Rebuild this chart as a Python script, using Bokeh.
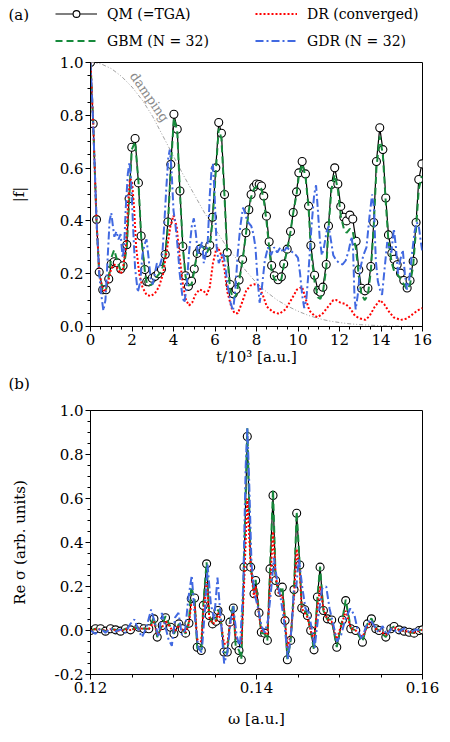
from bokeh.plotting import figure
from bokeh.models import (Range1d, FixedTicker, PrintfTickFormatter, Legend,
                          LegendItem, Label)
from bokeh.embed import file_html
from bokeh.resources import INLINE

FONT = "DejaVu Serif"

# ---------------- panel (a): |f| vs t/10^3 ----------------
qm_t = [0.00, 0.13, 0.29, 0.42, 0.59, 0.75, 0.88, 1.00, 1.14, 1.29,
        1.46, 1.57, 1.75, 1.86, 1.99, 2.15, 2.31, 2.44, 2.62, 2.71,
        2.81, 2.97, 3.12, 3.26, 3.42, 3.60, 3.73, 3.87, 4.02, 4.18,
        4.31, 4.45, 4.58, 4.72, 4.87, 5.00, 5.14, 5.27, 5.43, 5.61,
        5.75, 5.88, 6.04, 6.18, 6.31, 6.46, 6.59, 6.73, 6.88, 7.02,
        7.16, 7.33, 7.49, 7.63, 7.74, 7.87, 8.00, 8.13, 8.24, 8.35,
        8.48, 8.61, 8.73, 8.86, 9.04, 9.20, 9.31, 9.48, 9.64, 9.77,
        9.93, 10.04, 10.20, 10.36, 10.51, 10.62, 10.80, 10.96, 11.08, 11.20,
        11.36, 11.47, 11.61, 11.77, 11.92, 12.06, 12.21, 12.34, 12.50, 12.64,
        12.80, 12.93, 13.06, 13.22, 13.37, 13.51, 13.65, 13.78, 13.94, 14.09,
        14.23, 14.36, 14.52, 14.63, 14.78, 14.94, 15.10, 15.26, 15.40, 15.55,
        15.69, 15.82, 15.97]
qm_f = [1.000, 0.768, 0.405, 0.206, 0.139, 0.139, 0.180, 0.237, 0.245, 0.241,
        0.218, 0.230, 0.310, 0.484, 0.679, 0.712, 0.544, 0.343, 0.216, 0.170,
        0.169, 0.183, 0.190, 0.200, 0.217, 0.273, 0.396, 0.614, 0.804, 0.747,
        0.513, 0.303, 0.192, 0.152, 0.172, 0.218, 0.277, 0.293, 0.288, 0.280,
        0.308, 0.414, 0.601, 0.773, 0.732, 0.500, 0.280, 0.159, 0.124, 0.140,
        0.176, 0.254, 0.355, 0.442, 0.500, 0.528, 0.540, 0.538, 0.532, 0.494,
        0.418, 0.321, 0.231, 0.192, 0.177, 0.188, 0.237, 0.293, 0.360, 0.432,
        0.510, 0.582, 0.625, 0.578, 0.456, 0.307, 0.194, 0.136, 0.130, 0.149,
        0.235, 0.381, 0.538, 0.601, 0.540, 0.455, 0.414, 0.400, 0.422, 0.407,
        0.323, 0.215, 0.145, 0.135, 0.145, 0.227, 0.394, 0.625, 0.753, 0.670,
        0.487, 0.347, 0.278, 0.255, 0.234, 0.202, 0.174, 0.146, 0.174, 0.247,
        0.394, 0.557, 0.616]
gbm_f = [1.00, 0.77, 0.40, 0.20, 0.14, 0.14, 0.19, 0.26, 0.29, 0.25,
         0.21, 0.21, 0.30, 0.47, 0.67, 0.70, 0.55, 0.34, 0.21, 0.165,
         0.155, 0.16, 0.18, 0.195, 0.21, 0.26, 0.38, 0.60, 0.79, 0.74,
         0.51, 0.30, 0.19, 0.155, 0.16, 0.21, 0.28, 0.31, 0.30, 0.28,
         0.30, 0.40, 0.59, 0.75, 0.71, 0.49, 0.27, 0.14, 0.105, 0.12,
         0.17, 0.25, 0.35, 0.44, 0.49, 0.52, 0.53, 0.53, 0.52, 0.48,
         0.40, 0.30, 0.21, 0.18, 0.17, 0.18, 0.23, 0.29, 0.36, 0.43,
         0.50, 0.57, 0.615, 0.57, 0.45, 0.29, 0.17, 0.11, 0.105, 0.13,
         0.22, 0.37, 0.52, 0.575, 0.52, 0.42, 0.37, 0.355, 0.37, 0.36,
         0.29, 0.19, 0.12, 0.10, 0.12, 0.21, 0.38, 0.60, 0.72, 0.65,
         0.47, 0.32, 0.24, 0.21, 0.20, 0.18, 0.16, 0.14, 0.16, 0.23,
         0.37, 0.52, 0.57]
dr_t = [0.0, 0.13, 0.29, 0.42, 0.55, 0.7, 0.85, 1.0, 1.15, 1.3,
        1.45, 1.55, 1.7, 1.8, 1.9, 2.0, 2.1, 2.2, 2.35, 2.5,
        2.7, 2.9, 3.1, 3.3, 3.5, 3.7, 3.85, 4.0, 4.15, 4.3,
        4.45, 4.6, 4.75, 4.9, 5.05, 5.25, 5.45, 5.6, 5.75, 5.9,
        6.05, 6.15, 6.3, 6.45, 6.6, 6.8, 6.95, 7.1, 7.3, 7.5,
        7.7, 7.9, 8.1, 8.3, 8.5, 8.8, 9.1, 9.4, 9.7, 9.95,
        10.2, 10.35, 10.55, 10.8, 10.95, 11.2, 11.45, 11.7, 11.85, 12.05,
        12.3, 12.5, 12.75, 13.0, 13.25, 13.45, 13.7, 13.95, 14.15, 14.35,
        14.6, 14.95, 15.25, 15.5, 15.75, 16.0]
dr_f = [1.0, 0.77, 0.40, 0.21, 0.15, 0.13, 0.17, 0.22, 0.235, 0.22,
        0.2, 0.21, 0.3, 0.45, 0.56, 0.55, 0.45, 0.3, 0.2, 0.15,
        0.12, 0.115, 0.125, 0.15, 0.2, 0.3, 0.38, 0.42, 0.38, 0.26,
        0.16, 0.1, 0.08, 0.09, 0.12, 0.14, 0.135, 0.12, 0.15, 0.24,
        0.29, 0.3, 0.27, 0.22, 0.13, 0.07, 0.05, 0.05, 0.09, 0.135,
        0.155, 0.16, 0.155, 0.12, 0.075, 0.055, 0.048, 0.065, 0.105, 0.14,
        0.15, 0.11, 0.06, 0.04, 0.035, 0.05, 0.075, 0.1, 0.1, 0.09,
        0.085, 0.07, 0.04, 0.03, 0.025, 0.04, 0.075, 0.1, 0.085, 0.06,
        0.035, 0.025, 0.03, 0.045, 0.06, 0.07]
gdr_t = [0.0, 0.13, 0.29, 0.42, 0.52, 0.62, 0.72, 0.82, 0.92, 1.0,
         1.08, 1.15, 1.25, 1.35, 1.45, 1.55, 1.62, 1.7, 1.8, 1.88,
         1.96, 2.05, 2.15, 2.28, 2.4, 2.5, 2.6, 2.7, 2.8, 2.9,
         3.0, 3.1, 3.2, 3.3, 3.45, 3.55, 3.65, 3.75, 3.82, 3.9,
         4.0, 4.1, 4.2, 4.3, 4.42, 4.52, 4.62, 4.75, 4.88, 4.98,
         5.08, 5.18, 5.28, 5.38, 5.46, 5.55, 5.65, 5.75, 5.84, 5.9,
         5.98, 6.08, 6.18, 6.28, 6.38, 6.48, 6.6, 6.75, 6.87, 6.98,
         7.1, 7.22, 7.35, 7.45, 7.55, 7.65, 7.75, 7.85, 7.95, 8.05,
         8.15, 8.25, 8.4, 8.55, 8.7, 8.85, 9.0, 9.15, 9.3, 9.45,
         9.6, 9.75, 9.9, 10.0, 10.1, 10.2, 10.3, 10.4, 10.5, 10.65,
         10.78, 10.87, 10.95, 11.05, 11.15, 11.25, 11.38, 11.48, 11.58, 11.7,
         11.85, 12.0, 12.15, 12.3, 12.45, 12.58, 12.65, 12.72, 12.78, 12.88,
         13.0, 13.15, 13.3, 13.45, 13.57, 13.66, 13.75, 13.85, 13.95, 14.05,
         14.15, 14.3, 14.4, 14.5, 14.62, 14.72, 14.82, 14.92, 15.05, 15.15,
         15.25, 15.35, 15.5, 15.62, 15.72, 15.82, 15.92, 16.0]
gdr_f = [1.0, 0.77, 0.40, 0.2, 0.12, 0.06, 0.1, 0.25, 0.4, 0.43,
         0.38, 0.34, 0.36, 0.33, 0.35, 0.26, 0.3, 0.45, 0.58, 0.62,
         0.55, 0.38, 0.22, 0.13, 0.17, 0.27, 0.31, 0.33, 0.26, 0.18,
         0.16, 0.2, 0.24, 0.22, 0.26, 0.38, 0.52, 0.64, 0.67, 0.6,
         0.44, 0.38, 0.3, 0.2, 0.12, 0.09, 0.14, 0.28, 0.38, 0.41,
         0.35, 0.27, 0.3, 0.32, 0.24, 0.27, 0.32, 0.5, 0.6, 0.615,
         0.5, 0.3, 0.24, 0.26, 0.28, 0.24, 0.16, 0.09, 0.06, 0.14,
         0.28, 0.38, 0.45, 0.43, 0.4, 0.39, 0.38, 0.35, 0.3, 0.18,
         0.09, 0.14, 0.25, 0.3, 0.27, 0.3, 0.28, 0.3, 0.28, 0.3,
         0.29, 0.28, 0.27, 0.26, 0.2, 0.12, 0.07, 0.1, 0.2, 0.38,
         0.5, 0.535, 0.45, 0.33, 0.27, 0.3, 0.36, 0.38, 0.33, 0.27,
         0.25, 0.24, 0.235, 0.25, 0.29, 0.34, 0.3, 0.12, 0.065, 0.12,
         0.22, 0.27, 0.3, 0.42, 0.5, 0.45, 0.25, 0.17, 0.14, 0.12,
         0.2, 0.32, 0.3, 0.28, 0.37, 0.3, 0.2, 0.25, 0.29, 0.2,
         0.14, 0.17, 0.28, 0.36, 0.395, 0.38, 0.32, 0.28]
damp_t = [0.0, 0.5, 1.0, 1.5, 2.0, 2.5, 3.0, 3.5, 4.0, 4.5,
          5.0, 5.5, 6.0, 6.5, 7.0, 7.5, 8.0, 8.5, 9.0, 9.5,
          10.0, 10.5, 11.0, 11.5, 12.0, 12.5, 13.0, 13.5, 14.0, 14.5,
          15.0, 15.5, 16.0]
damp_f = [1.0, 0.995, 0.977, 0.947, 0.907, 0.857, 0.795, 0.72, 0.645, 0.57,
          0.5, 0.43, 0.37, 0.31, 0.26, 0.21, 0.165, 0.13, 0.1, 0.077,
          0.058, 0.042, 0.03, 0.021, 0.015, 0.01, 0.007, 0.005, 0.003, 0.002,
          0.001, 0.0005, 0.0]
a_xticks = [0, 2, 4, 6, 8, 10, 12, 14, 16]
a_yticks = [0.0, 0.2, 0.4, 0.6, 0.8, 1.0]

# ---------------- panel (b): Re sigma vs omega ----------------
qm_w = [0.12000, 0.12060, 0.12121, 0.12181, 0.12241, 0.12302, 0.12362, 0.12422, 0.12482, 0.12583,
        0.12643, 0.12703, 0.12764, 0.12804, 0.12864, 0.12904, 0.12965, 0.13005, 0.13065, 0.13105,
        0.13146, 0.13186, 0.13214, 0.13254, 0.13286, 0.13335, 0.13359, 0.13399, 0.13431, 0.13471,
        0.13512, 0.13536, 0.13568, 0.13608, 0.13648, 0.13680, 0.13721, 0.13749, 0.13789, 0.13817,
        0.13849, 0.13889, 0.13930, 0.13970, 0.13990, 0.14030, 0.14058, 0.14098, 0.14131, 0.14163,
        0.14199, 0.14231, 0.14271, 0.14311, 0.14344, 0.14372, 0.14412, 0.14452, 0.14484, 0.14521,
        0.14545, 0.14581, 0.14613, 0.14653, 0.14693, 0.14734, 0.14766, 0.14806, 0.14854, 0.14906,
        0.14967, 0.15035, 0.15075, 0.15136, 0.15196, 0.15276, 0.15337, 0.15385, 0.15437, 0.15477,
        0.15558, 0.15618, 0.15658, 0.15718, 0.15779, 0.15839, 0.15899, 0.15960, 0.16000]
qm_s = [0.000, 0.008, 0.008, -0.003, 0.008, 0.003, -0.003, 0.008, 0.003, 0.015,
        0.008, 0.008, 0.053, -0.030, 0.023, 0.058, 0.015, -0.015, 0.030, 0.008,
        -0.012, 0.033, 0.144, 0.148, -0.076, -0.091, 0.114, 0.303, 0.068, 0.030,
        0.042, 0.091, 0.058, -0.098, -0.098, 0.038, 0.102, -0.068, -0.091, -0.133,
        0.288, 0.882, 0.288, 0.167, 0.227, 0.080, -0.008, -0.012, -0.045, 0.280,
        0.614, 0.227, 0.174, 0.197, 0.045, -0.133, -0.045, 0.186, 0.533, 0.298,
        0.102, 0.094, 0.068, 0.000, -0.088, 0.152, 0.288, 0.091, 0.053, 0.048,
        -0.076, 0.048, 0.136, 0.008, 0.000, -0.053, 0.030, 0.053, 0.008, 0.000,
        -0.030, 0.008, 0.018, 0.003, -0.003, -0.008, -0.012, 0.000, 0.003]
gbm_s = [0.0, 0.008, 0.008, -0.003, 0.008, 0.003, -0.003, 0.008, 0.003, 0.015,
         0.008, 0.008, 0.06, -0.03, 0.025, 0.065, 0.015, -0.015, 0.03, 0.008,
         -0.015, 0.04, 0.2, 0.14, -0.08, -0.095, 0.12, 0.31, 0.07, 0.03,
         0.045, 0.095, 0.06, -0.1, -0.1, 0.04, 0.12, -0.07, -0.09, -0.13,
         0.3, 0.92, 0.3, 0.17, 0.23, 0.08, -0.01, -0.015, -0.045, 0.28,
         0.64, 0.23, 0.17, 0.2, 0.045, -0.13, -0.045, 0.19, 0.54, 0.3,
         0.1, 0.09, 0.07, 0.0, -0.09, 0.15, 0.29, 0.09, 0.05, 0.05,
         -0.075, 0.05, 0.14, 0.01, 0.0, -0.05, 0.03, 0.055, 0.01, 0.0,
         -0.03, 0.01, 0.018, 0.003, -0.003, -0.008, -0.012, 0.0, 0.003]
dr_s = [0.0, 0.006, 0.006, -0.002, 0.006, 0.002, -0.002, 0.006, 0.002, 0.012,
        0.006, 0.006, 0.04, -0.02, 0.015, 0.045, 0.012, -0.01, 0.025, 0.005,
        -0.008, 0.03, 0.12, 0.12, -0.04, -0.05, 0.08, 0.22, 0.06, 0.03,
        0.04, 0.08, 0.05, -0.06, -0.06, 0.03, 0.08, -0.03, -0.05, -0.06,
        0.2, 0.6, 0.3, 0.15, 0.2, 0.07, 0.0, -0.01, -0.02, 0.2,
        0.45, 0.25, 0.16, 0.16, 0.04, -0.08, -0.02, 0.15, 0.37, 0.27,
        0.1, 0.08, 0.06, 0.0, -0.05, 0.1, 0.2, 0.1, 0.05, 0.04,
        -0.04, 0.04, 0.09, 0.01, 0.0, -0.03, 0.02, 0.04, 0.008, 0.0,
        -0.02, 0.005, 0.015, 0.002, -0.002, -0.006, -0.01, 0.0, 0.003]
gdr_w = [0.1200, 0.1206, 0.1212, 0.1218, 0.1224, 0.1230, 0.1236, 0.1242, 0.1248, 0.1253,
         0.1258, 0.1262, 0.1267, 0.1273, 0.1278, 0.1282, 0.1286, 0.1290, 0.1294, 0.1298,
         0.1302, 0.1306, 0.1310, 0.1314, 0.1318, 0.1322, 0.1326, 0.1330, 0.1334, 0.1338,
         0.1341, 0.1345, 0.1349, 0.1353, 0.1357, 0.1361, 0.1365, 0.1369, 0.1372, 0.1376,
         0.1380, 0.1384, 0.1387, 0.1389, 0.1391, 0.1394, 0.1398, 0.1402, 0.1406, 0.1410,
         0.1414, 0.1418, 0.1421, 0.1425, 0.1429, 0.1433, 0.1438, 0.1442, 0.1445, 0.1448,
         0.1451, 0.1455, 0.1459, 0.1463, 0.1467, 0.1470, 0.1474, 0.1479, 0.1484, 0.1488,
         0.1493, 0.1497, 0.1502, 0.1507, 0.1513, 0.1518, 0.1522, 0.1527, 0.1532, 0.1537,
         0.1542, 0.1547, 0.1552, 0.1557, 0.1563, 0.1570, 0.1578, 0.1585, 0.1592, 0.1600]
gdr_s = [0.0, -0.015, 0.01, -0.01, 0.01, -0.005, 0.005, -0.01, 0.03, 0.05,
         0.0, -0.03, 0.01, 0.095, 0.03, -0.03, 0.08, 0.02, -0.04, -0.07,
         0.06, 0.08, -0.02, 0.0, 0.15, 0.25, 0.05, -0.08, -0.1, 0.1,
         0.3, 0.12, 0.05, 0.24, 0.05, -0.15, -0.1, 0.05, 0.11, -0.02,
         -0.08, 0.2, 0.75, 0.92, 0.7, 0.3, 0.16, 0.1, 0.02, -0.01,
         0.05, 0.2, 0.33, 0.22, 0.15, 0.05, -0.13, 0.0, 0.18, 0.2,
         0.33, 0.2, 0.1, 0.08, 0.0, -0.08, 0.05, 0.19, 0.2, 0.1,
         0.02, -0.05, -0.02, 0.05, 0.1, 0.07, 0.0, -0.04, 0.02, 0.05,
         0.02, -0.01, 0.02, -0.02, 0.01, -0.01, 0.01, -0.01, 0.005, 0.0]
b_xticks = [0.12, 0.14, 0.16]
b_yticks = [-0.2, 0.0, 0.2, 0.4, 0.6, 0.8, 1.0]

# ---------------- styles ----------------
C_QM, C_GBM, C_DR, C_GDR = "black", "#178a3c", "#ff0000", "#4169e1"
W = 450


def style(p, xlabel, ylabel, xlab_standoff, ylab_standoff):
    p.grid.visible = False
    p.outline_line_color = "black"
    p.outline_line_width = 1
    p.background_fill_color = "white"
    p.border_fill_color = "white"
    for ax in list(p.xaxis) + list(p.yaxis):
        ax.axis_line_color = "black"
        ax.major_tick_line_color = "black"
        ax.minor_tick_line_color = "black"
        ax.major_tick_out = 5
        ax.major_tick_in = 0
        ax.minor_tick_out = 3
        ax.minor_tick_in = 0
        ax.major_label_standoff = 2
        ax.major_label_text_font = FONT
        ax.major_label_text_font_size = "15px"
        ax.major_label_text_color = "black"
        ax.axis_label_text_font = FONT
        ax.axis_label_text_font_size = "15px"
        ax.axis_label_text_font_style = "normal"
        ax.axis_label_text_color = "black"
    p.xaxis.axis_label = xlabel
    p.yaxis.axis_label = ylabel
    p.xaxis.axis_label_standoff = xlab_standoff
    p.yaxis.axis_label_standoff = ylab_standoff


def frange(a, b, s):
    out, v = [], a
    while v <= b + 1e-9:
        out.append(round(v, 6))
        v += s
    return out


OFF = 1000  # header strips use an offset range so the real data stays out of view


def strip(h):
    q = figure(width=W, height=h, x_range=Range1d(OFF, OFF + W), y_range=Range1d(h, 0),
               min_border=0, min_border_left=0, min_border_right=0,
               min_border_top=0, min_border_bottom=0,
               x_axis_location=None, y_axis_location=None,
               output_backend="svg", toolbar_location=None)
    q.grid.visible = False
    q.outline_line_color = None
    q.background_fill_color = "white"
    q.border_fill_color = "white"
    return q


# ---------- header strip with legend and (a) ----------
HEAD = 52
ph = strip(HEAD)
h_qm_l = ph.line(qm_t, qm_f, line_color=C_QM, line_width=1.2)
h_qm_p = ph.scatter(qm_t, qm_f, marker="circle", size=8, line_color=C_QM,
                    fill_color="white", line_width=1.1)
h_gbm = ph.line(qm_t, gbm_f, line_color=C_GBM, line_width=2, line_dash="7 4")
h_dr = ph.line(dr_t, dr_f, line_color=C_DR, line_width=2, line_dash="2 2")
h_gdr = ph.line(gdr_t, gdr_f, line_color=C_GDR, line_width=2, line_dash="8 3 2 3")


def mk_legend(items, loc):
    return Legend(items=items, location=loc, orientation="vertical",
                  glyph_width=42, glyph_height=17, label_height=17,
                  label_standoff=10, spacing=10, padding=0, margin=0,
                  border_line_alpha=0, background_fill_alpha=0,
                  label_text_font=FONT, label_text_font_size="14px",
                  label_text_color="black")


ph.add_layout(mk_legend([LegendItem(label="QM (=TGA)", renderers=[h_qm_l, h_qm_p]),
                         LegendItem(label="GBM (N = 32)", renderers=[h_gbm])], (55, 3)))
ph.add_layout(mk_legend([LegendItem(label="DR (converged)", renderers=[h_dr]),
                         LegendItem(label="GDR (N = 32)", renderers=[h_gdr])], (255, 3)))
ph.add_layout(Label(x=OFF + 8, y=14, text="(a)", text_align="left", text_baseline="middle",
                    text_font=FONT, text_font_size="15px", text_color="black"))

# ---------- figure (a) ----------
pa = figure(frame_width=332, frame_height=264,
            x_range=Range1d(0, 16), y_range=Range1d(0, 1),
            min_border_left=90, min_border_right=W - 422,
            min_border_top=10, min_border_bottom=44,
            output_backend="svg", toolbar_location=None)
style(pa, "t/10³ [a.u.]", "|f|", 0, 29)
pa.xaxis.ticker = FixedTicker(ticks=a_xticks, minor_ticks=frange(0, 16, 0.5))
pa.yaxis.ticker = FixedTicker(ticks=a_yticks, minor_ticks=frange(0, 1, 0.05))
pa.xaxis.formatter = PrintfTickFormatter(format="%d")
pa.yaxis.formatter = PrintfTickFormatter(format="%.1f")

pa.line(damp_t, damp_f, line_color="#8a8a8a", line_width=0.8, line_dash="4 2 1 2 1 2")
pa.line(qm_t, qm_f, line_color=C_QM, line_width=1.2)
pa.scatter(qm_t, qm_f, marker="circle", size=8, line_color=C_QM,
           fill_color="white", line_width=1.1)
pa.line(qm_t, gbm_f, line_color=C_GBM, line_width=2, line_dash="7 4")
pa.line(dr_t, dr_f, line_color=C_DR, line_width=2, line_dash="2 2")
pa.line(gdr_t, gdr_f, line_color=C_GDR, line_width=2, line_dash="8 3 2 3")
pa.add_layout(Label(x=2.55, y=0.853, text="damping", angle=-0.96,
                    text_align="center", text_baseline="bottom",
                    text_font=FONT, text_font_size="13px", text_color="#8a8a8a"))

# ---------- middle strip with (b) ----------
MID = 26
pm = strip(MID)
pm.add_layout(Label(x=OFF + 8, y=13, text="(b)", text_align="left", text_baseline="middle",
                    text_font=FONT, text_font_size="15px", text_color="black"))

# ---------- figure (b) ----------
pb = figure(frame_width=332, frame_height=264,
            x_range=Range1d(0.12, 0.16), y_range=Range1d(-0.2, 1.0),
            min_border_left=90, min_border_right=W - 422,
            min_border_top=14, min_border_bottom=60,
            output_backend="svg", toolbar_location=None)
style(pb, "ω [a.u.]", "Re σ (arb. units)", 14, 23)
pb.xaxis.ticker = FixedTicker(ticks=b_xticks, minor_ticks=frange(0.12, 0.16, 0.005))
pb.yaxis.ticker = FixedTicker(ticks=b_yticks, minor_ticks=frange(-0.2, 1.0, 0.05))
pb.xaxis.formatter = PrintfTickFormatter(format="%.2f")
pb.yaxis.formatter = PrintfTickFormatter(format="%.1f")

pb.line(qm_w, qm_s, line_color=C_QM, line_width=1.2)
pb.scatter(qm_w, qm_s, marker="circle", size=8, line_color=C_QM,
           fill_color="white", line_width=1.1)
pb.line(qm_w, gbm_s, line_color=C_GBM, line_width=2, line_dash="7 4")
pb.line(qm_w, dr_s, line_color=C_DR, line_width=2, line_dash="2 2")
pb.line(gdr_w, gdr_s, line_color=C_GDR, line_width=2, line_dash="8 3 2 3")

# separate roots stacked vertically (no border alignment between them)
open("out.html", "w").write(file_html([ph, pa, pm, pb], INLINE))
